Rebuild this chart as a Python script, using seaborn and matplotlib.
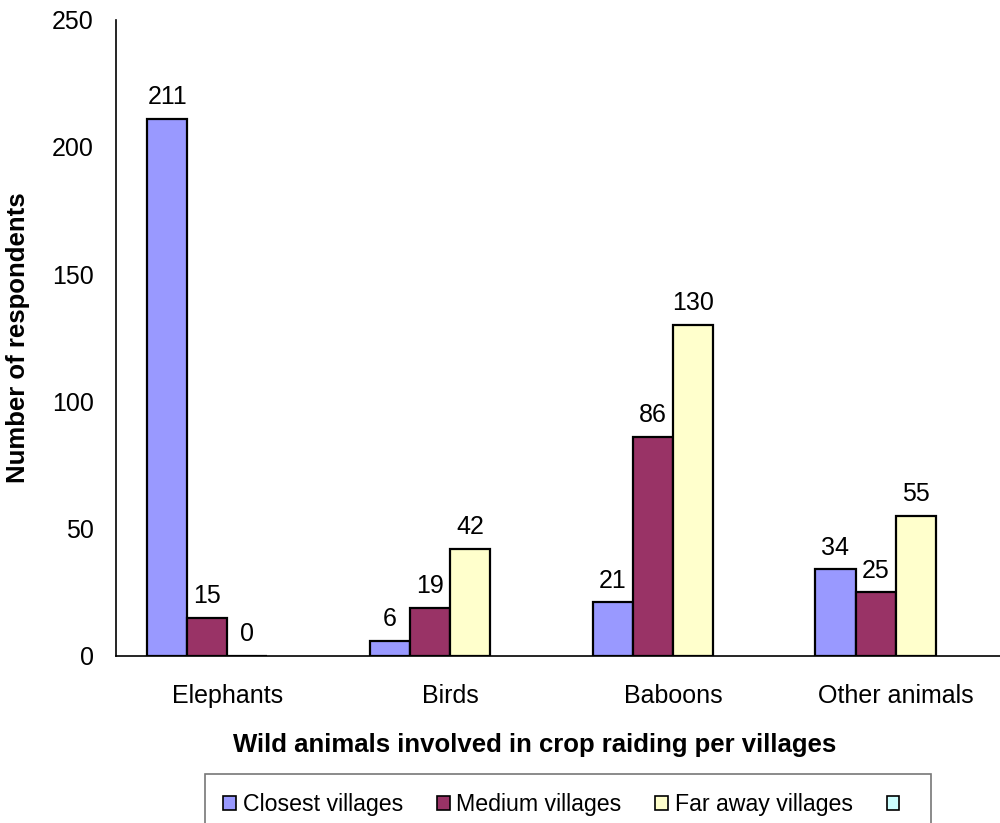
import matplotlib
matplotlib.use("Agg")
import matplotlib.pyplot as plt
from matplotlib.patches import Patch
import numpy as np
import pandas as pd
import seaborn as sns

categories = ["Elephants", "Birds", "Baboons", "Other animals"]
series = ["Closest villages", "Medium villages", "Far away villages", " "]
closest = [211, 6, 21, 34]
medium = [15, 19, 86, 25]
far_away = [0, 42, 130, 55]
empty = [np.nan, np.nan, np.nan, np.nan]
colors = ["#9999FF", "#993366", "#FFFFCC", "#CCFFFF"]

rows = []
for s, vals in zip(series, [closest, medium, far_away, empty]):
    for c, v in zip(categories, vals):
        rows.append({"Animal": c, "Series": s, "Count": v})
df = pd.DataFrame(rows)

sns.set_style("white")
plt.rcParams["font.family"] = ["Liberation Sans", "DejaVu Sans"]
plt.rcParams["text.color"] = "black"
plt.rcParams["axes.labelcolor"] = "black"
plt.rcParams["xtick.color"] = "black"
plt.rcParams["ytick.color"] = "black"

fig = plt.figure(figsize=(10, 8.23), dpi=100)
ax = fig.add_axes([0.116, 0.203, 0.891, 0.773])

plot_df = df.dropna(subset=["Count"])
sns.barplot(data=plot_df, x="Animal", y="Count", hue="Series",
            order=categories, hue_order=series, palette=colors,
            width=0.72, dodge=True, edgecolor="black", linewidth=1.6,
            saturation=1, errorbar=None, legend=False, ax=ax)

# value labels above each drawn bar
for container in ax.containers:
    for patch in container.patches:
        h = patch.get_height()
        if np.isnan(h):
            continue
        ax.annotate(f"{h:.0f}", (patch.get_x() + patch.get_width() / 2, h),
                    xytext=(0, 7), textcoords="offset points",
                    ha="center", va="bottom", fontsize=18, color="black")

ax.set_ylim(0, 250)
ax.set_yticks(range(0, 251, 50))
ax.set_xlim(-0.5, 3.5)
ax.set_xticks(np.arange(-0.5, 3.6, 1.0), minor=False)
ax.set_xticklabels([])
ax.set_xticks(range(len(categories)), minor=True)
ax.set_xticklabels(categories, minor=True, fontsize=18)
ax.tick_params(axis="x", which="major", direction="out", length=7, width=1, color="black")
ax.tick_params(axis="x", which="minor", length=0, pad=20)
ax.tick_params(axis="y", direction="out", length=7, width=1, color="black",
               labelsize=18, pad=9)

for side in ["top", "right"]:
    ax.spines[side].set_visible(False)
for side in ["left", "bottom"]:
    ax.spines[side].set_color("black")
    ax.spines[side].set_linewidth(1.2)

ax.set_xlabel("Wild animals involved in crop raiding per villages",
              fontsize=18.5, fontweight="bold", labelpad=18)
ax.xaxis.label.set_x(0.47)
ax.set_ylabel("Number of respondents", fontsize=18.5, fontweight="bold", labelpad=16)

handles = [Patch(facecolor=col, edgecolor="black", linewidth=1.2) for col in colors]
leg = fig.legend(handles, series, loc="lower left", bbox_to_anchor=(0.193, -0.028),
                 ncol=4, frameon=True, fontsize=16.7, handlelength=0.55,
                 handleheight=0.55, handletextpad=0.3, columnspacing=1.45,
                 fancybox=False, borderpad=0.8)
leg.get_frame().set_edgecolor("#555555")
leg.get_frame().set_linewidth(1.2)

fig.savefig("out.png", dpi=100)
